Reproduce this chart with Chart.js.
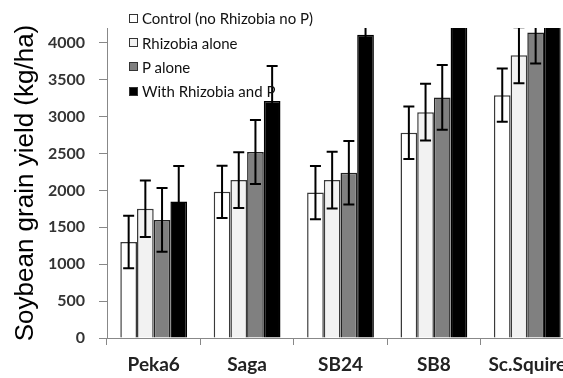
<!DOCTYPE html>
<html>
<head>
<meta charset="utf-8">
<script src="https://cdn.jsdelivr.net/npm/chart.js@4.4.0/dist/chart.umd.min.js"></script>
<style>
  html, body { margin: 0; padding: 0; background: #fff; overflow: hidden; }
  #wrap { position: relative; width: 563px; height: 378px; overflow: hidden; }
  #legend { position: absolute; left: 129px; top: 6px; font-family: Lato, sans-serif; font-size: 15px; color: #111; }
  #legend div { height: 24.4px; display: flex; align-items: center; white-space: nowrap; }
  #legend span.box { display: inline-block; width: 7px; height: 7px; border: 1.5px solid #333; margin-right: 4px; }
</style>
</head>
<body>
<div id="wrap">
  <canvas id="chart" width="580" height="378"></canvas>
  <div id="legend"></div>
</div>
<script>
// cultivars on the x axis
const cultivars = ["Peka6", "Saga", "SB24", "SB8", "Sc.Squire"];

// treatment names (legend)
const treatments = ["Control (no Rhizobia no P)", "Rhizobia alone", "P alone", "With Rhizobia and P"];

// mean yield, kg/ha (last two black bars run off the top)
const control   = [1300, 1980, 1970, 2780, 3290];
const rhizobia  = [1750, 2140, 2140, 3060, 3830];
const pAlone    = [1600, 2520, 2240, 3260, 4140];
const rhizobiaP = [1850, 3210, 4110, 4500, 4600];

// error bar half-lengths, kg/ha
const errControl   = [355, 355, 360, 355, 360];
const errRhizobia  = [383, 378, 385, 385, 380];
const errPAlone    = [433, 435, 430, 440, 420];
const errRhizobiaP = [480, 475, 480, 480, 480];

// y axis tick values
const yTicks = [0, 500, 1000, 1500, 2000, 2500, 3000, 3500, 4000];
const yMax = 4200;

const fills = ["#ffffff", "#f2f2f2", "#808080", "#000000"];
const borders = ["#3a3a3a", "#3a3a3a", "#222222", "#000000"];
const values = [control, rhizobia, pAlone, rhizobiaP];
const errors = [errControl, errRhizobia, errPAlone, errRhizobiaP];

const datasets = treatments.map((t, i) => ({
  label: t,
  data: values[i],
  errors: errors[i],
  backgroundColor: fills[i],
  borderColor: borders[i],
  borderWidth: 1.5,
  categoryPercentage: 0.715,
  barPercentage: 1
}));

// error bars drawn with the y scale
const errorBars = {
  id: "errorBars",
  afterDatasetsDraw(chart) {
    const c = chart.ctx, area = chart.chartArea, y = chart.scales.y;
    c.save();
    c.beginPath();
    c.rect(area.left, area.top, area.right - area.left, area.bottom - area.top);
    c.clip();
    c.strokeStyle = "#000";
    c.lineWidth = 2;
    chart.data.datasets.forEach((ds, i) => {
      chart.getDatasetMeta(i).data.forEach((bar, j) => {
        const v = ds.data[j], e = ds.errors[j];
        const top = y.getPixelForValue(v + e), bot = y.getPixelForValue(v - e);
        c.beginPath();
        c.moveTo(bar.x, top); c.lineTo(bar.x, bot);
        c.moveTo(bar.x - 5.5, top); c.lineTo(bar.x + 5.5, top);
        c.moveTo(bar.x - 5.5, bot); c.lineTo(bar.x + 5.5, bot);
        c.stroke();
      });
    });
    c.restore();
  }
};

new Chart(document.getElementById("chart"), {
  type: "bar",
  data: { labels: cultivars, datasets: datasets },
  options: {
    responsive: false,
    animation: false,
    layout: { padding: { top: 28, right: 6, left: 0, bottom: 0 } },
    plugins: { legend: { display: false }, tooltip: { enabled: false } },
    scales: {
      x: {
        grid: { drawOnChartArea: false, tickLength: 7, color: "#888", offset: true },
        border: { color: "#888", width: 1 },
        ticks: { font: { family: "Lato", size: 19, weight: "bold" }, color: "#222", padding: 8 },
        afterFit(scale) { scale.height = 40; }
      },
      y: {
        min: 0,
        max: yMax,
        afterBuildTicks(scale) { scale.ticks = yTicks.map(v => ({ value: v })); },
        grid: { drawOnChartArea: false, tickLength: 8, color: "#888" },
        border: { color: "#888", width: 1 },
        ticks: {
          font: { family: "Lato", size: 16, weight: "bold" },
          color: "#333",
          padding: 14,
          callback: v => String(v)
        },
        title: {
          display: true,
          text: "Soybean grain yield (kg/ha)",
          font: { family: "Liberation Sans", size: 26 },
          color: "#000",
          padding: { top: 10, bottom: 0 }
        },
        afterFit(scale) { scale.width = 107; }
      }
    }
  },
  plugins: [errorBars]
});

// legend built from the same arrays
const legend = document.getElementById("legend");
treatments.forEach((t, i) => {
  const row = document.createElement("div");
  row.innerHTML = '<span class="box" style="background:' + fills[i] + '"></span>' + t;
  legend.appendChild(row);
});
</script>
</body>
</html>
